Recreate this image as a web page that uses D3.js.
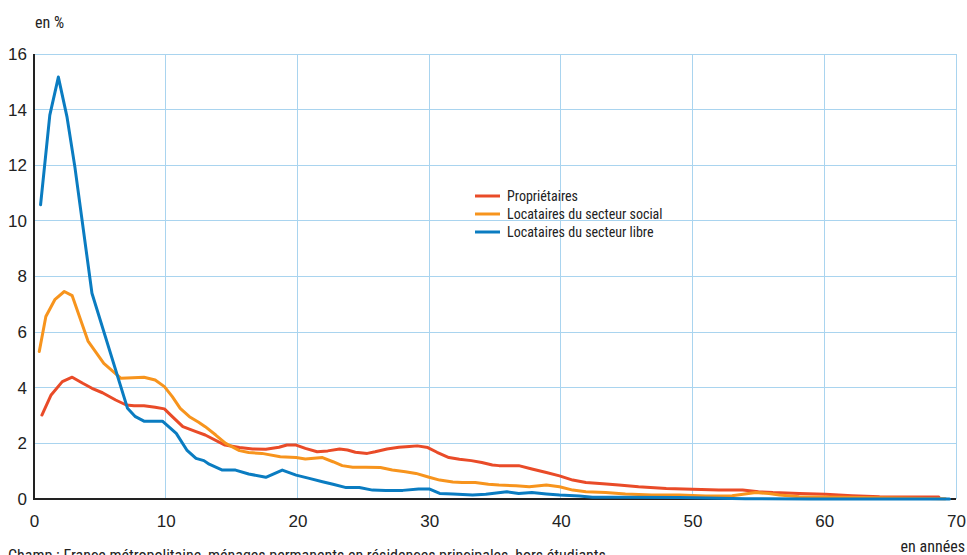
<!DOCTYPE html>
<html><head><meta charset="utf-8">
<script src="https://cdn.jsdelivr.net/npm/d3@7"></script>
<style>
html,body{margin:0;padding:0;background:#fff;}
svg{display:block;font-family:"Liberation Sans Narrow","Arial Narrow","Roboto Condensed",sans-serif;}
</style></head>
<body>
<svg id="chart" width="967" height="555"></svg>
<script>
const seriesNames = ["Propriétaires", "Locataires du secteur social", "Locataires du secteur libre"];
const seriesColors = ["#e94b28", "#f7941d", "#0a7cc1"];
const yTicks = [0, 2, 4, 6, 8, 10, 12, 14, 16];
const xTicks = [0, 10, 20, 30, 40, 50, 60, 70];

const ownersYears = [0.6,1.3,2.15,2.9,3.7,4.4,5.2,6.2,7.0,7.6,8.35,9.2,9.9,10.5,11.3,12.3,13.0,14.5,15.6,16.6,17.6,18.6,19.2,19.9,20.6,21.5,22.3,23.2,23.8,24.4,25.3,25.9,26.8,27.7,28.5,29.1,29.9,30.6,31.5,32.3,33.2,34.0,34.8,35.3,36.8,37.8,38.9,39.9,40.9,41.9,43.2,44.4,45.9,48.0,50.0,52.0,53.8,55.0,56.1,58.1,60.1,62.1,64.2,66.2,68.7];
const ownersValues = [3.02,3.74,4.22,4.38,4.16,3.98,3.82,3.56,3.38,3.35,3.35,3.3,3.24,2.96,2.6,2.42,2.3,1.94,1.85,1.80,1.79,1.86,1.94,1.94,1.82,1.70,1.73,1.80,1.76,1.68,1.64,1.70,1.80,1.86,1.89,1.91,1.85,1.68,1.49,1.43,1.38,1.31,1.22,1.20,1.20,1.08,0.95,0.83,0.68,0.59,0.55,0.50,0.44,0.38,0.35,0.32,0.32,0.26,0.23,0.20,0.17,0.12,0.08,0.07,0.07];

const socialYears = [0.4,0.9,1.6,2.3,2.9,4.1,5.3,6.6,7.5,8.35,9.2,9.9,10.5,11.1,11.8,12.5,13.0,13.8,14.55,15.6,16.3,17.3,18.7,19.9,20.6,21.9,22.7,23.4,24.2,25.2,26.3,27.2,28.2,29.0,30.0,30.8,31.8,32.5,33.5,34.5,35.3,36.6,37.6,38.9,39.9,40.9,41.9,43.4,44.9,46.9,49.0,51.0,53.0,54.8,55.8,56.6,58.1,61.6,66.7,69.2];
const socialValues = [5.3,6.56,7.18,7.46,7.31,5.68,4.88,4.34,4.36,4.38,4.28,4.04,3.68,3.26,2.96,2.76,2.60,2.30,2.0,1.74,1.67,1.64,1.52,1.49,1.44,1.49,1.34,1.20,1.14,1.14,1.13,1.04,0.98,0.92,0.78,0.68,0.61,0.59,0.59,0.53,0.50,0.48,0.44,0.50,0.44,0.32,0.26,0.23,0.18,0.14,0.14,0.11,0.12,0.23,0.20,0.14,0.08,0.06,0.03,0.01];

const freeYears = [0.5,1.2,1.85,2.5,3.1,4.4,7.1,7.7,8.35,9.75,10.8,11.6,12.3,12.9,13.3,14.3,15.3,16.3,17.6,18.85,19.9,20.9,21.9,22.7,23.7,24.7,25.7,26.7,28.0,29.2,30.0,30.8,31.8,33.3,34.3,35.9,36.8,37.8,38.9,39.9,41.4,42.4,43.9,49.0,54.0,59.0,69.5];
const freeValues = [10.58,13.8,15.17,13.75,11.95,7.4,3.26,2.96,2.8,2.8,2.36,1.76,1.46,1.38,1.25,1.04,1.04,0.90,0.78,1.04,0.86,0.74,0.62,0.53,0.41,0.41,0.32,0.31,0.31,0.36,0.36,0.20,0.18,0.14,0.17,0.26,0.20,0.23,0.18,0.14,0.11,0.06,0.06,0.05,0.01,0.0,0.0];

const series = [
  {name: seriesNames[0], color: seriesColors[0], xs: ownersYears, ys: ownersValues},
  {name: seriesNames[1], color: seriesColors[1], xs: socialYears, ys: socialValues},
  {name: seriesNames[2], color: seriesColors[2], xs: freeYears, ys: freeValues}
];

const svg = d3.select("#chart");
const x = d3.scaleLinear().domain([0, 70]).range([34, 956]);
const y = d3.scaleLinear().domain([0, 16]).range([499, 54]);
const gridColor = "#a9d4ef";

// gridlines
svg.append("g").selectAll("line").data(yTicks.filter(d => d > 0)).join("line")
  .attr("x1", x(0)).attr("x2", x(70)).attr("y1", d => y(d)).attr("y2", d => y(d))
  .attr("stroke", gridColor).attr("stroke-width", 1).attr("shape-rendering", "crispEdges");
svg.append("g").selectAll("line").data(xTicks.filter(d => d > 0)).join("line")
  .attr("x1", d => x(d)).attr("x2", d => x(d)).attr("y1", y(0)).attr("y2", y(16))
  .attr("stroke", gridColor).attr("stroke-width", 1).attr("shape-rendering", "crispEdges");

// axes
const yAxis = svg.append("g").attr("transform", `translate(${x(0)},0)`)
  .call(d3.axisLeft(y).tickValues(yTicks).tickSize(0).tickPadding(7).tickFormat(d3.format("d")));
yAxis.select(".domain").remove();
yAxis.selectAll("text").attr("font-size", 17).attr("fill", "#222").attr("font-family", null);

const xAxis = svg.append("g").attr("transform", `translate(0,${y(0)})`)
  .call(d3.axisBottom(x).tickValues(xTicks).tickSize(0).tickPadding(16).tickFormat(d3.format("d")));
xAxis.select(".domain").remove();
xAxis.selectAll("text").attr("font-size", 17).attr("fill", "#222").attr("font-family", null);

svg.append("line").attr("x1", x(0)).attr("x2", x(0)).attr("y1", y(16)).attr("y2", y(0) + 1)
  .attr("stroke", "#222").attr("stroke-width", 2);
svg.append("line").attr("x1", x(0) - 1).attr("x2", x(70)).attr("y1", y(0)).attr("y2", y(0))
  .attr("stroke", "#222").attr("stroke-width", 2);

// lines
const line = d3.line().x(d => x(d[0])).y(d => y(d[1]));
series.forEach(s => {
  svg.append("path").datum(s.xs.map((v, i) => [v, s.ys[i]]))
    .attr("fill", "none").attr("stroke", s.color).attr("stroke-width", 3)
    .attr("stroke-linejoin", "round").attr("stroke-linecap", "round")
    .attr("d", line);
});

// legend
const lg = svg.append("g").attr("transform", "translate(475,196)");
series.forEach((s, i) => {
  lg.append("line").attr("x1", 0).attr("x2", 25).attr("y1", i * 18).attr("y2", i * 18)
    .attr("stroke", s.color).attr("stroke-width", 3);
  lg.append("text").attr("x", 32).attr("y", i * 18 + 5).attr("font-size", 14).attr("fill", "#222").text(s.name);
});

// labels
svg.append("text").attr("x", 35).attr("y", 28).attr("font-size", 16).attr("fill", "#222").text("en %");
svg.append("text").attr("x", 965).attr("y", 552).attr("text-anchor", "end").attr("font-size", 16).attr("fill", "#222").text("en années");
svg.append("text").attr("x", 8).attr("y", 561).attr("font-size", 16).attr("fill", "#222")
  .text("Champ : France métropolitaine, ménages permanents en résidences principales, hors étudiants.");
</script>
</body></html>
